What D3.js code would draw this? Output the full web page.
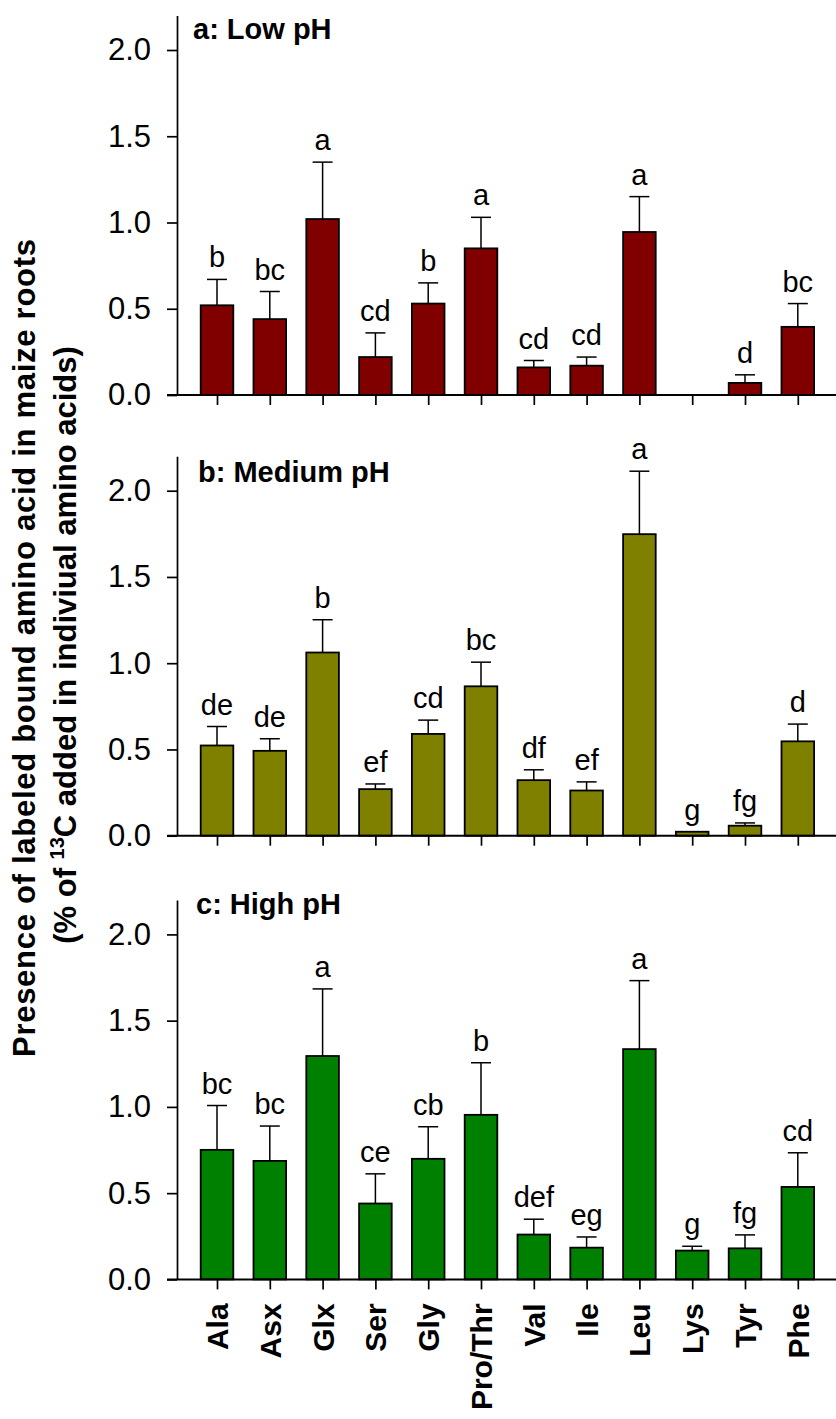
<!DOCTYPE html>
<html><head><meta charset="utf-8">
<script src="https://cdn.jsdelivr.net/npm/d3@7"></script>
<style>body{margin:0;background:#fff;} svg{display:block;}</style>
</head><body>
<svg id="chart" width="836" height="1419"></svg>
<script>
const categories = ["Ala","Asx","Glx","Ser","Gly","Pro/Thr","Val","Ile","Leu","Lys","Tyr","Phe"];
const yTicks = [0, 0.5, 1.0, 1.5, 2.0];

const lowMeans = [0.52, 0.44, 1.02, 0.22, 0.53, 0.85, 0.16, 0.17, 0.945, 0, 0.07, 0.395];
const lowSE    = [0.15, 0.16, 0.33, 0.14, 0.12, 0.18, 0.04, 0.05, 0.205, 0, 0.047, 0.135];
const lowLetters = ["b","bc","a","cd","b","a","cd","cd","a","","d","bc"];

const medMeans = [0.523, 0.492, 1.062, 0.27, 0.59, 0.866, 0.322, 0.262, 1.748, 0.023, 0.058, 0.547];
const medSE    = [0.11, 0.07, 0.19, 0.03, 0.08, 0.14, 0.06, 0.05, 0.365, 0, 0.016, 0.1];
const medLetters = ["de","de","b","ef","cd","bc","df","ef","a","g","fg","d"];

const highMeans = [0.751, 0.687, 1.295, 0.44, 0.699, 0.954, 0.26, 0.184, 1.335, 0.167, 0.18, 0.536];
const highSE    = [0.257, 0.202, 0.389, 0.172, 0.186, 0.302, 0.089, 0.062, 0.397, 0.025, 0.078, 0.198];
const highLetters = ["bc","bc","a","ce","cb","b","def","eg","a","g","fg","cd"];

const panels = [
  {title:"a: Low pH", means:lowMeans, se:lowSE, letters:lowLetters, color:"#800000", y0:395, ty:39, tx:193},
  {title:"b: Medium pH", means:medMeans, se:medSE, letters:medLetters, color:"#808000", y0:835.7, ty:482, tx:198},
  {title:"c: High pH", means:highMeans, se:highSE, letters:highLetters, color:"#008000", y0:1279.4, ty:914, tx:196}
];

const FONT = "Arial, 'Liberation Sans', Helvetica, sans-serif";
const svg = d3.select("#chart");
const axisX = 177;
const pxPerUnit = 172.5;
const x = d3.scalePoint().domain(categories).range([217, 797.8]);
const barW = 32.6;

panels.forEach((p, pi) => {
  const y = d3.scaleLinear().domain([0, 2.2]).range([p.y0, p.y0 - 2.2*pxPerUnit]);
  const g = svg.append("g");

  categories.forEach((c, i) => {
    const m = p.means[i];
    if (m <= 0) return;
    g.append("rect")
      .attr("x", x(c) - barW/2).attr("y", y(m))
      .attr("width", barW).attr("height", y(0) - y(m))
      .attr("fill", p.color).attr("stroke", "#000").attr("stroke-width", 1.8);
    const top = m + p.se[i];
    if (p.se[i] > 0) {
      g.append("line").attr("x1", x(c)).attr("x2", x(c)).attr("y1", y(m)).attr("y2", y(top))
        .attr("stroke", "#000").attr("stroke-width", 1.5);
      g.append("line").attr("x1", x(c)-10).attr("x2", x(c)+10).attr("y1", y(top)).attr("y2", y(top))
        .attr("stroke", "#000").attr("stroke-width", 1.5);
    }
    if (p.letters[i]) {
      g.append("text").attr("x", x(c)).attr("y", y(top) - 12)
        .attr("text-anchor", "middle").attr("font-family", FONT).attr("font-size", 29)
        .text(p.letters[i]);
    }
  });

  const yAxis = d3.axisLeft(y).tickValues(yTicks).tickFormat(d3.format(".1f"))
    .tickSize(10).tickSizeOuter(0).tickPadding(16);
  const ya = g.append("g").attr("transform", `translate(${axisX},0)`).call(yAxis);
  ya.select(".domain").attr("stroke", "#000").attr("stroke-width", 1.7);
  ya.selectAll(".tick line").attr("stroke", "#000").attr("stroke-width", 1.7);
  ya.selectAll(".tick text").attr("font-family", FONT).attr("font-size", 31).attr("fill", "#000");

  const xAxis = d3.axisBottom(x).tickSize(10).tickSizeOuter(0).tickPadding(14);
  if (pi < 2) xAxis.tickFormat("");
  const xa = g.append("g").attr("transform", `translate(0,${p.y0})`).call(xAxis);
  xa.select(".domain").remove();
  xa.selectAll(".tick line").attr("stroke", "#000").attr("stroke-width", 1.7);
  xa.append("line").attr("x1", 167).attr("x2", 836).attr("y1", 0).attr("y2", 0)
    .attr("stroke", "#000").attr("stroke-width", 2);
  if (pi === 2) {
    xa.selectAll(".tick text")
      .attr("font-family", FONT).attr("font-size", 30).attr("font-weight", "bold").attr("fill", "#000")
      .attr("text-anchor", "end")
      .attr("transform", "rotate(-90)")
      .attr("x", -24).attr("y", 0).attr("dy", "0.35em");
  }

  g.append("text").attr("x", p.tx).attr("y", p.ty)
    .attr("font-family", FONT).attr("font-size", 29).attr("font-weight", "bold").text(p.title);
});

// y axis title
const cy = 648;
svg.append("text").attr("transform", `translate(35,${cy}) rotate(-90)`)
  .attr("text-anchor", "middle").attr("font-family", FONT).attr("font-size", 31).attr("font-weight", "bold")
  .attr("textLength", 818).attr("lengthAdjust", "spacing")
  .text("Presence of labeled bound amino acid in maize roots");
const t2 = svg.append("text").attr("transform", `translate(76,${cy - 3}) rotate(-90)`)
  .attr("text-anchor", "middle").attr("font-family", FONT).attr("font-size", 31).attr("font-weight", "bold");
t2.append("tspan").text("(% of ");
t2.append("tspan").attr("font-size", 20).attr("dy", -12).text("13");
t2.append("tspan").attr("dy", 12).text("C added in indiviual amino acids)");
</script>
</body></html>
